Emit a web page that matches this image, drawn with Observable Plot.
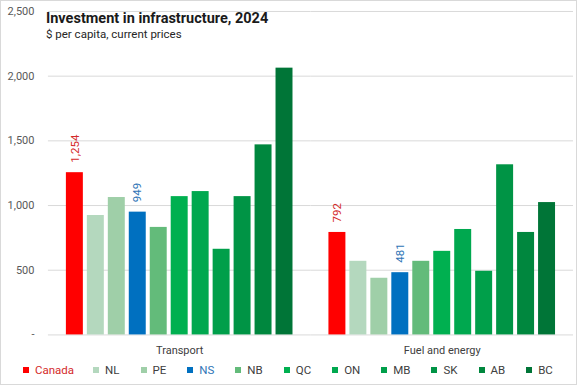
<!DOCTYPE html>
<html>
<head>
<meta charset="utf-8">
<script src="https://cdn.jsdelivr.net/npm/d3@7"></script>
<script src="https://cdn.jsdelivr.net/npm/@observablehq/plot@0.6"></script>
<style>
  html, body { margin: 0; padding: 0; background: #fff; }
  #wrap { position: relative; width: 577px; height: 385px; box-sizing: border-box; border: 1px solid #d9d9d9; overflow: hidden; font-family: Roboto, "Liberation Sans", sans-serif; }
  #chart { position: absolute; left: -1px; top: -1px; }
  #title { position: absolute; left: 45px; top: 9px; font-size: 14.5px; font-weight: bold; color: #1a1a1a; white-space: nowrap; }
  #subtitle { position: absolute; left: 45px; top: 26px; font-size: 11.5px; color: #262626; white-space: nowrap; }
  #legend { position: absolute; left: 22px; top: 362px; display: flex; gap: 21px; font-size: 11.5px; color: #404040; }
  #legend .item { display: flex; align-items: center; gap: 6px; }
  #legend .item:first-child { margin-right: -2px; }
  #legend .sw { width: 6px; height: 6px; display: inline-block; }
</style>
</head>
<body>
<div id="wrap">
  <div id="chart"></div>
  <div id="title">Investment in infrastructure, 2024</div>
  <div id="subtitle">$ per capita, current prices</div>
  <div id="legend"></div>
</div>
<script>
const categories = ["Transport", "Fuel and energy"];
const provinces = ["Canada", "NL", "PE", "NS", "NB", "QC", "ON", "MB", "SK", "AB", "BC"];
const transport = [1254, 923, 1062, 949, 831, 1069, 1108, 662, 1069, 1469, 2062];
const fuelEnergy = [792, 569, 438, 481, 569, 646, 815, 492, 1315, 792, 1023];
const colors = ["#ff0000", "#b4d8be", "#9fcfa8", "#0070c0", "#63bb7a", "#00b050", "#00a84f", "#009f4a", "#009445", "#00873e", "#007537"];
const labelled = ["Canada", "NS"];
const labelColors = {Canada: "#d42a2a", NS: "#2e75b6"};
const yTicks = [0, 500, 1000, 1500, 2000, 2500];

const data = [];
provinces.forEach((p, i) => {
  data.push({category: categories[0], prov: p, value: transport[i]});
  data.push({category: categories[1], prov: p, value: fuelEnergy[i]});
});
const fmt = d3.format(",");

const chart = Plot.plot({
  width: 577,
  height: 360,
  marginLeft: 47,
  marginRight: 3,
  marginTop: 11,
  marginBottom: 25,
  style: {fontFamily: "Roboto, 'Liberation Sans', sans-serif", fontSize: "11px", color: "#595959", background: "transparent"},
  fx: {domain: categories, padding: 0, label: null, axis: "bottom", tickSize: 0, tickPadding: 11},
  x: {domain: provinces, paddingInner: 0.2, paddingOuter: 0.85, axis: null},
  y: {domain: [0, 2500], ticks: yTicks, tickFormat: d => d === 0 ? "-" : fmt(d), tickSize: 0, tickPadding: 14, label: null},
  color: {domain: provinces, range: colors},
  marks: [
    Plot.ruleY(yTicks, {stroke: "#d9d9d9", strokeWidth: 1}),
    Plot.barY(data, {fx: "category", x: "prov", y: "value", fill: "prov"}),
    Plot.text(data.filter(d => labelled.includes(d.prov)), {
      fx: "category", x: "prov", y: "value",
      text: d => fmt(d.value),
      rotate: -90, textAnchor: "start", dy: -10,
      fill: d => labelColors[d.prov], fontSize: 11.5
    })
  ]
});
document.getElementById("chart").appendChild(chart);

chart.querySelectorAll("[aria-label='fx-axis tick label'] text, [aria-label='fx-axis'] text").forEach(t => t.setAttribute("fill", "#404040"));

const legend = document.getElementById("legend");
provinces.forEach((p, i) => {
  const item = document.createElement("div");
  item.className = "item";
  const sw = document.createElement("span");
  sw.className = "sw";
  sw.style.background = colors[i];
  const lab = document.createElement("span");
  lab.textContent = p;
  if (labelColors[p]) lab.style.color = labelColors[p];
  item.appendChild(sw);
  item.appendChild(lab);
  legend.appendChild(item);
});
</script>
</body>
</html>
